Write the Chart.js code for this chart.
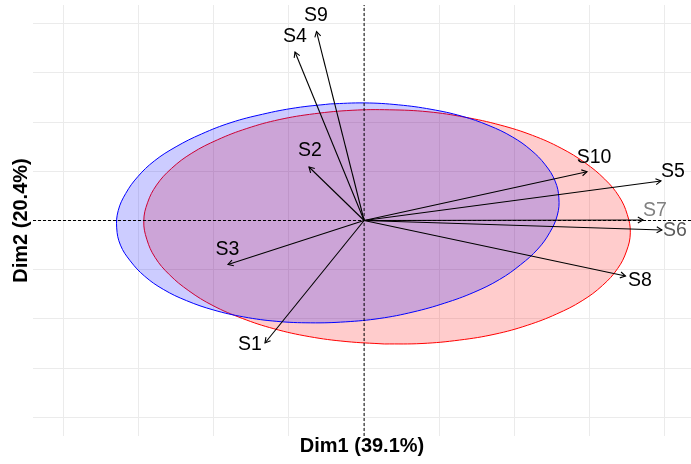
<!DOCTYPE html>
<html>
<head>
<meta charset="utf-8">
<script src="https://cdn.jsdelivr.net/npm/chart.js@4.4.1/dist/chart.umd.min.js"></script>
<style>
  html, body { margin: 0; padding: 0; background: #ffffff; }
  #wrap { width: 691px; height: 464px; }
</style>
</head>
<body>
<div id="wrap"><canvas id="c" width="691" height="464"></canvas></div>
<script>
// ---- Data ----
const axisTitleX = 'Dim1 (39.1%)';
const axisTitleY = 'Dim2 (20.4%)';

const varNames = ['S1','S2','S3','S4','S5','S6','S7','S8','S9','S10'];
const varX = [-1.318, -0.733, -1.810, -0.919, 3.948, 3.960, 3.709, 3.476, -0.633, 2.964];
const varY = [-2.490,  1.087, -0.894,  3.425, 0.803, -0.193, 0.010, -1.128, 3.841, 0.992];

// label anchor positions (data units) as placed in the reference
const labelX = [-1.517, -0.719, -1.816, -0.919, 4.108, 4.134, 3.868, 3.669, -0.640, 3.057];
const labelY = [-2.530,  1.413, -0.589,  3.740, 0.986, -0.203, 0.203, -1.230, 4.157, 1.270];
const labelColors = ['#000','#000','#000','#000','#000','#5a5a5a','#808080','#000','#000','#000'];

// group ellipse outlines (data units, read and smoothed from the picture)
const redEllipseX = [0.27,-0.24,-0.73,-1.20,-1.62,-2.01,-2.33,-2.59,-2.78,-2.89,-2.93,-2.88,-2.76,-2.56,-2.29,-1.95,-1.56,-1.13,-0.66,-0.16,0.34,0.85,1.34,1.81,2.24,2.62,2.94,3.20,3.39,3.50,3.54,3.49,3.37,3.17,2.90,2.56,2.17,1.74,1.27,0.77,0.27];
const redEllipseY = [-2.51,-2.46,-2.36,-2.20,-1.99,-1.73,-1.43,-1.10,-0.75,-0.38,-0.01,0.36,0.72,1.06,1.37,1.64,1.87,2.05,2.17,2.24,2.25,2.21,2.10,1.94,1.73,1.47,1.17,0.84,0.49,0.12,-0.25,-0.62,-0.98,-1.32,-1.63,-1.90,-2.13,-2.31,-2.43,-2.50,-2.51];

const blueEllipseX = [-0.45,0.01,0.46,0.89,1.30,1.66,1.97,2.22,2.41,2.54,2.59,2.57,2.47,2.31,2.08,1.80,1.46,1.07,0.65,0.21,-0.25,-0.71,-1.16,-1.60,-2.00,-2.36,-2.67,-2.92,-3.11,-3.24,-3.29,-3.27,-3.17,-3.01,-2.79,-2.50,-2.16,-1.77,-1.35,-0.91,-0.45];
const blueEllipseY = [2.37,2.39,2.35,2.26,2.12,1.93,1.70,1.43,1.13,0.80,0.46,0.11,-0.24,-0.58,-0.90,-1.20,-1.46,-1.68,-1.86,-1.99,-2.06,-2.08,-2.05,-1.96,-1.82,-1.63,-1.40,-1.13,-0.82,-0.50,-0.15,0.20,0.55,0.89,1.21,1.50,1.76,1.99,2.16,2.29,2.37];

// axis extents
const xMin = -4.403, xMax = 4.347;
const yMin = -4.38, yMax = 4.38;

// ---- Build chart ----
const FONT = '"Liberation Sans", Arial, Helvetica, sans-serif';
const pts = (xs, ys) => xs.map((x, i) => ({ x: x, y: ys[i] }));

const datasets = [];
datasets.push({
  label: 'group1', data: pts(redEllipseX, redEllipseY), showLine: true,
  borderColor: '#ff0000', borderWidth: 1, backgroundColor: 'rgba(255,0,0,0.2)',
  fill: 'shape', tension: 0.4, pointRadius: 0, order: 10
});
datasets.push({
  label: 'group2', data: pts(blueEllipseX, blueEllipseY), showLine: true,
  borderColor: '#0000ff', borderWidth: 1, backgroundColor: 'rgba(0,0,255,0.2)',
  fill: 'shape', tension: 0.4, pointRadius: 0, order: 9
});
datasets.push({
  label: 'h0', data: [{x: xMin, y: 0}, {x: xMax, y: 0}], showLine: true,
  borderColor: '#000', borderWidth: 1, borderDash: [3, 2], pointRadius: 0, fill: false, order: 5
});
datasets.push({
  label: 'v0', data: [{x: 0, y: yMin}, {x: 0, y: yMax}], showLine: true,
  borderColor: '#000', borderWidth: 1, borderDash: [3, 2], pointRadius: 0, fill: false, order: 5
});
varNames.forEach((n, i) => {
  datasets.push({
    label: n, data: [{x: 0, y: 0}, {x: varX[i], y: varY[i]}], showLine: true,
    borderColor: '#000', borderWidth: 1.1, pointRadius: 0, fill: false, order: 1
  });
});

const arrowLabelPlugin = {
  id: 'arrowLabels',
  afterDatasetsDraw(chart) {
    const ctx = chart.ctx, xs = chart.scales.x, ys = chart.scales.y;
    const ox = xs.getPixelForValue(0), oy = ys.getPixelForValue(0);
    ctx.save();
    ctx.strokeStyle = '#000';
    ctx.lineWidth = 1.1;
    varNames.forEach((n, i) => {
      const tx = xs.getPixelForValue(varX[i]), ty = ys.getPixelForValue(varY[i]);
      const a = Math.atan2(ty - oy, tx - ox);
      const L = 6, h = Math.PI / 6;
      ctx.beginPath();
      ctx.moveTo(tx - L * Math.cos(a - h), ty - L * Math.sin(a - h));
      ctx.lineTo(tx, ty);
      ctx.lineTo(tx - L * Math.cos(a + h), ty - L * Math.sin(a + h));
      ctx.stroke();
    });
    ctx.font = '19.5px ' + FONT;
    ctx.textAlign = 'center';
    ctx.textBaseline = 'middle';
    varNames.forEach((n, i) => {
      ctx.fillStyle = labelColors[i];
      ctx.fillText(n, xs.getPixelForValue(labelX[i]), ys.getPixelForValue(labelY[i]));
    });
    ctx.restore();
  }
};

const gridOpts = { color: '#ebebeb', lineWidth: 1, drawTicks: false };

new Chart(document.getElementById('c'), {
  type: 'scatter',
  data: { datasets: datasets },
  options: {
    responsive: false,
    animation: false,
    events: [],
    layout: { padding: { top: 5, right: 0, left: 0, bottom: 0 } },
    plugins: { legend: { display: false }, tooltip: { enabled: false } },
    scales: {
      x: {
        type: 'linear', min: xMin, max: xMax,
        ticks: { display: false, stepSize: 1, includeBounds: false },
        grid: gridOpts, border: { display: false },
        title: { display: true, text: axisTitleX, color: '#000',
                 font: { family: FONT, size: 20, weight: 'bold', lineHeight: 1 },
                 padding: { top: 0, bottom: 8 } },
        afterFit: s => { s.height = 28; }
      },
      y: {
        type: 'linear', min: yMin, max: yMax,
        ticks: { display: false, stepSize: 1, includeBounds: false },
        grid: gridOpts, border: { display: false },
        title: { display: true, text: axisTitleY, color: '#000',
                 font: { family: FONT, size: 20, weight: 'bold', lineHeight: 1 },
                 padding: { top: 11, bottom: 0 } },
        afterFit: s => { s.width = 33; }
      }
    }
  },
  plugins: [arrowLabelPlugin]
});
</script>
</body>
</html>
